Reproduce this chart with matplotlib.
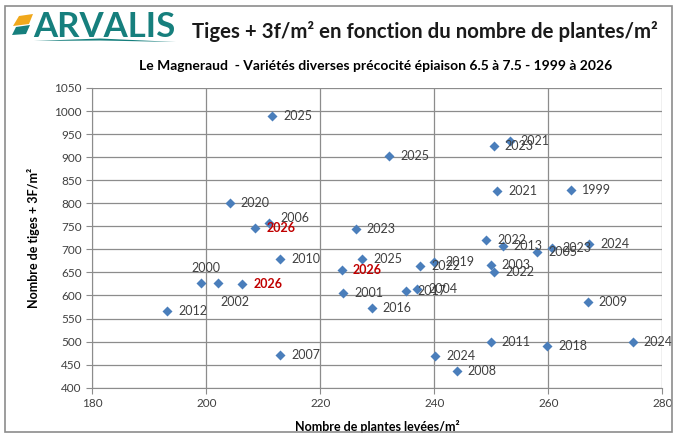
import matplotlib
matplotlib.use("Agg")
import matplotlib.pyplot as plt
from matplotlib.patches import Rectangle, Polygon

plt.rcParams['font.family'] = ['Lato', 'DejaVu Sans']

# plants/m2, stems+3f/m2, year label
plantes = [211.5, 204.1, 211.0, 208.6, 226.2, 213.0, 227.4, 223.8, 199.0, 202.1,
           206.3, 193.1, 213.0, 224.0, 229.0, 232.1, 253.2, 250.4, 251.0, 263.9,
           249.1, 252.0, 258.0, 260.6, 267.2, 237.5, 240.0, 249.9, 250.5, 235.1,
           237.0, 266.9, 249.9, 259.8, 274.8, 240.2, 243.9]
tiges = [990, 800, 758, 746, 745, 680, 680, 656, 626, 626,
         625, 566, 470, 606, 573, 902, 934, 924, 826, 828,
         721, 707, 694, 704, 711, 664, 672, 666, 650, 610,
         613, 586, 499, 491, 500, 469, 437]
annees = ['2025', '2020', '2006', '2026', '2023', '2010', '2025', '2026', '2000', '2002',
          '2026', '2012', '2007', '2001', '2016', '2025', '2021', '2023', '2021', '1999',
          '2022', '2013', '2005', '2023', '2024', '2022', '2019', '2003', '2022', '2017',
          '2004', '2009', '2011', '2018', '2024', '2024', '2008']
annee_courante = '2026'

# label placement exceptions (offset in points), default is right of the marker
offsets = {8: (4, 11), 9: (12, -13)}
decal_haut = {2: 3}

fig = plt.figure(figsize=(6.77, 4.36), dpi=100)


def px(x, y):
    return (x / 677, 1 - y / 436)


fig.patches.append(Rectangle((5 / 677, 4 / 436), 667 / 677, 426 / 436, transform=fig.transFigure,
                             fill=False, edgecolor='#8c8c8c', lw=1.2))

ax = fig.add_axes([0.1363, 0.1108, 0.842, 0.6874])

# logo
fig.patches.append(Polygon([px(13, 26), px(19, 16), px(33, 14), px(29, 24)], closed=True,
                           transform=fig.transFigure, facecolor='#f0a81c', edgecolor='none'))
fig.patches.append(Polygon([px(12, 35), px(16, 27), px(30, 25), px(26, 34)], closed=True,
                           transform=fig.transFigure, facecolor='#167f7d', edgecolor='none'))
fig.patches.append(Polygon([px(34, 41), px(100, 38.5), px(176, 42), px(100, 40.5)], closed=True,
                           transform=fig.transFigure, facecolor='#167f7d', edgecolor='none'))
fig.text(*px(33, 27), 'ARVALIS', fontsize=25, fontweight='bold', color='#167f7d',
         ha='left', va='center')

fig.text(*px(425, 32), 'Tiges + 3f/m² en fonction du nombre de plantes/m²',
         fontsize=14.7, fontweight='bold', color='#1a1a1a', ha='center', va='center')
fig.text(*px(376, 66), 'Le Magneraud  - Variétés diverses précocité épiaison 6.5 à 7.5 - 1999 à 2026',
         fontsize=10, fontweight='bold', color='#000000', ha='center', va='center')

ax.scatter(plantes, tiges, marker='D', s=26, color='#4a7ebb', zorder=3, linewidths=0)

for i, (x, y, a) in enumerate(zip(plantes, tiges, annees)):
    dx, dy = offsets.get(i, (8, decal_haut.get(i, 0)))
    ha = 'center' if i in offsets else 'left'
    if a == annee_courante:
        ax.annotate(a, (x, y), xytext=(dx, dy), textcoords='offset points', ha=ha, va='center',
                    fontsize=9, fontweight='bold', color='#c00000', zorder=4)
    else:
        ax.annotate(a, (x, y), xytext=(dx, dy), textcoords='offset points', ha=ha, va='center',
                    fontsize=9, color='#404040', zorder=4)

ax.set_xlim(180, 280)
ax.set_ylim(400, 1050)
ax.set_xticks(range(180, 281, 20))
ax.set_yticks(range(400, 1051, 50))
ax.grid(True, color='#8c8c8c', lw=0.9)
ax.set_axisbelow(True)
for s in ['top', 'right']:
    ax.spines[s].set_visible(False)
for s in ['left', 'bottom']:
    ax.spines[s].set_color('#8c8c8c')
ax.tick_params(direction='out', length=4, color='#8c8c8c', labelsize=8.5, labelcolor='#404040')
ax.set_xlabel('Nombre de plantes levées/m²', fontsize=9, fontweight='bold', labelpad=8)
ax.set_ylabel('Nombre de tiges + 3F/m²', fontsize=9, fontweight='bold', labelpad=10)

fig.savefig('out.png', dpi=100)
